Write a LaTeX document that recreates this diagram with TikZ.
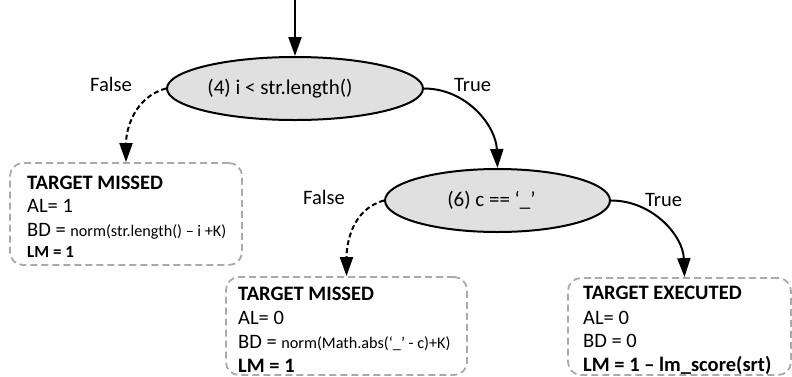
\documentclass[tikz,border=0pt]{standalone}
\usepackage{fontspec}
\setmainfont{Carlito}
\usetikzlibrary{shapes.geometric,arrows.meta}
\definecolor{ellfill}{RGB}{224,224,224}
\definecolor{boxgray}{RGB}{170,170,170}
\newcommand{\bigf}{\fontsize{20.5}{24}\selectfont}
\newcommand{\smallf}{\fontsize{16.2}{20}\selectfont}
\begin{document}
\begin{tikzpicture}[x=1pt,y=-1pt,
  cond/.style={ellipse,draw=black,line width=2pt,fill=ellfill,inner sep=0pt,font=\fontsize{21}{24}\selectfont},
  resbox/.style={draw=boxgray,line width=1.8pt,rounded corners=13pt,dash pattern=on 7pt off 4pt,inner sep=0pt},
  txt/.style={anchor=base west,inner sep=0pt,font=\bigf},
  lbl/.style={anchor=base west,inner sep=0pt,font=\bigf},
  flow/.style={line width=2pt,-{Triangle[length=19pt,width=13pt]}},
  flowd/.style={flow,dash pattern=on 5pt off 3pt}]
\useasboundingbox (0,0) rectangle (792,376);

% decision nodes
\node[cond,minimum width=256pt,minimum height=63pt] (e1) at (295,88.5) {(4) i < str.length()\hspace*{30pt}};
\node[cond,minimum width=225pt,minimum height=63pt] (e2) at (497.5,200.5) {(6) c == ‘\_’\hspace*{12pt}};

% result boxes
\node[resbox,minimum width=232pt,minimum height=102pt] (b1) at (126,214) {};
\node[resbox,minimum width=241pt,minimum height=98pt] (b2) at (346.5,326) {};
\node[resbox,minimum width=223pt,minimum height=97pt] (b3) at (679.5,326.5) {};

% box texts
\node[txt] (b1a) at (27,189) {\textbf{TARGET MISSED}};
\node[txt] (b1b) at (27,212) {AL= 1};
\node[txt] (b1c) at (27,236) {BD = {\smallf norm(str.length() – i +K)}};
\node[txt] (b1d) at (27,257) {\textbf{\fontsize{17}{20}\selectfont LM = 1}};

\node[txt] (b2a) at (238,300) {\textbf{TARGET MISSED}};
\node[txt] (b2b) at (238,324) {AL= 0};
\node[txt] (b2c) at (238,348) {BD = {\smallf norm(Math.abs(‘\_’ - c)+K)}};
\node[txt] (b2d) at (238,372) {\textbf{LM = 1}};

\node[txt] (b3a) at (583,299) {\textbf{TARGET EXECUTED}};
\node[txt] (b3b) at (583,324) {AL= 0};
\node[txt] (b3c) at (583,347) {BD = 0};
\node[txt] (b3d) at (583,371) {\textbf{LM = 1 – lm\_score(srt)}};

% labels
\node[lbl] (f1) at (90,91) {False};
\node[lbl] (t1) at (454,91) {True};
\node[lbl] (f2) at (303,204) {False};
\node[lbl] (t2) at (645,206) {True};

% connectors
\coordinate (start) at (295,0);
\draw[flow] (start) -- (e1.north);
\draw[flowd] (e1.west) to[out=195,in=90] (b1.north);
\draw[flow] (e1.east) to[out=0,in=92] (e2.north);
\draw[flowd] (e2.west) to[out=195,in=90] (b2.north);
\draw[flow] (e2.east) to[out=0,in=92] ([xshift=5pt]b3.north);
\end{tikzpicture}
\end{document}
